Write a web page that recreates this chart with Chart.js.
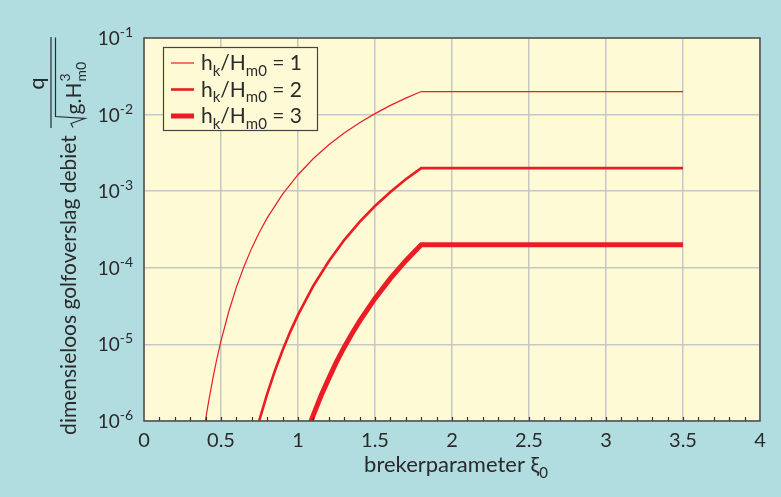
<!DOCTYPE html>
<html><head><meta charset="utf-8">
<script src="https://cdn.jsdelivr.net/npm/chart.js@4.4.1/dist/chart.umd.min.js"></script>
<style>html,body{margin:0;padding:0;background:#b2dde0;}canvas{display:block;}</style>
</head><body>
<canvas id="c" width="781" height="497"></canvas>
<script>
// ---- data ----
const xTicks = [0, 0.5, 1, 1.5, 2, 2.5, 3, 3.5, 4];
const xTickLabels = ['0', '0.5', '1', '1.5', '2', '2.5', '3', '3.5', '4'];
const yTicks = [1e-6, 1e-5, 1e-4, 1e-3, 1e-2, 1e-1];
const yTickBase = '10';
const yTickExponents = ['-6', '-5', '-4', '-3', '-2', '-1'];
const seriesNames = ['hk/Hm0 = 1', 'hk/Hm0 = 2', 'hk/Hm0 = 3'];

const xi1 = [0.38, 0.40, 0.42, 0.45, 0.47, 0.50, 0.55, 0.60, 0.65, 0.70, 0.75, 0.80, 0.90, 1.0, 1.1, 1.2, 1.3, 1.4, 1.5, 1.6, 1.7, 1.8, 3.5];
const q1  = [5.6e-7, 1.04e-6, 1.82e-6, 3.85e-6, 6.05e-6, 1.11e-5, 2.67e-5, 5.6e-5, 1.05e-4, 1.82e-4, 2.94e-4, 4.48e-4, 9.16e-4, 1.64e-3, 2.67e-3, 4.03e-3, 5.75e-3, 7.83e-3, 1.03e-2, 1.32e-2, 1.64e-2, 2.0e-2, 2.0e-2];

const xi2 = [0.72, 0.75, 0.80, 0.85, 0.90, 0.95, 1.0, 1.1, 1.2, 1.3, 1.4, 1.5, 1.6, 1.7, 1.8, 3.5];
const q2  = [6.2e-7, 1.04e-6, 2.26e-6, 4.53e-6, 8.4e-6, 1.47e-5, 2.43e-5, 5.83e-5, 1.22e-4, 2.3e-4, 3.97e-4, 6.41e-4, 9.77e-4, 1.43e-3, 2.0e-3, 2.0e-3];

const xi3 = [1.05, 1.1, 1.15, 1.2, 1.25, 1.3, 1.35, 1.4, 1.5, 1.6, 1.7, 1.8, 3.5];
const q3  = [6.5e-7, 1.2e-6, 2.15e-6, 3.6e-6, 5.9e-6, 9.2e-6, 1.38e-5, 2.01e-5, 3.98e-5, 7.26e-5, 1.24e-4, 2.0e-4, 2.0e-4];

// ---- styling ----
const FONT = 'Lato, "DejaVu Sans", sans-serif';
const RED = '#ec1c24';
const TXT = '#2a2a2a';
const widths = [1.2, 2.6, 5];

function pts(xs, ys) { return xs.map((x, i) => ({ x: x, y: ys[i] })); }

const datasets = [[xi1, q1], [xi2, q2], [xi3, q3]].map((d, i) => ({
  label: seriesNames[i],
  data: pts(d[0], d[1]),
  borderColor: RED,
  backgroundColor: RED,
  borderWidth: widths[i],
  pointRadius: 0,
  tension: 0,
  fill: false,
  clip: 0
}));

function drawSubText(ctx, parts, x, y, size, small) {
  // parts: [text, mode] mode: 0 normal, 1 subscript, 2 superscript
  let cx = x;
  parts.forEach(p => {
    const s = p[1] === 0 ? size : small;
    ctx.font = s + 'px ' + FONT;
    const dy = p[1] === 1 ? size * 0.27 : (p[1] === 2 ? -size * 0.42 : 0);
    ctx.fillText(p[0], cx, y + dy);
    cx += ctx.measureText(p[0]).width;
  });
  return cx - x;
}
function measureParts(ctx, parts, size, small) {
  let w = 0;
  parts.forEach(p => {
    ctx.font = (p[1] === 0 ? size : small) + 'px ' + FONT;
    w += ctx.measureText(p[0]).width;
  });
  return w;
}

const decor = {
  id: 'decor',
  beforeDraw(chart) {
    const ctx = chart.ctx, a = chart.chartArea;
    ctx.save();
    ctx.fillStyle = '#b2dde0';
    ctx.fillRect(0, 0, chart.width, chart.height);
    ctx.fillStyle = '#fffad6';
    ctx.fillRect(a.left, a.top, a.right - a.left, a.bottom - a.top);
    ctx.restore();
  },
  afterDraw(chart) {
    const ctx = chart.ctx, a = chart.chartArea, xs = chart.scales.x, ys = chart.scales.y;
    ctx.save();
    // minor ticks on bottom axis
    ctx.strokeStyle = '#333';
    ctx.lineWidth = 1.2;
    for (let k = 1; k < 40; k++) {
      const px = Math.round(xs.getPixelForValue(k / 10)) + 0.5;
      ctx.beginPath();
      ctx.moveTo(px, a.bottom);
      ctx.lineTo(px, a.bottom - 4);
      ctx.stroke();
    }
    // frame
    ctx.strokeStyle = '#4a4a4a';
    ctx.lineWidth = 1.5;
    ctx.strokeRect(a.left, a.top, a.right - a.left, a.bottom - a.top);

    // y tick labels: 10 with superscript exponent
    ctx.fillStyle = TXT;
    ctx.textBaseline = 'alphabetic';
    ctx.textAlign = 'left';
    yTicks.forEach((v, i) => {
      const py = ys.getPixelForValue(v);
      const parts = [[yTickBase, 0], [yTickExponents[i], 2]];
      const w = measureParts(ctx, parts, 19, 14);
      drawSubText(ctx, parts, 133 - w, py + 7, 19, 14);
    });

    // legend
    const lx = 163.5, ly = 47.5, lw = 154, lh = 83;
    ctx.fillStyle = '#fffad6';
    ctx.fillRect(lx, ly, lw, lh);
    ctx.strokeStyle = '#444';
    ctx.lineWidth = 1.2;
    ctx.strokeRect(lx, ly, lw, lh);
    const rows = [63, 89.5, 116];
    chart.data.datasets.forEach((ds, i) => {
      ctx.strokeStyle = ds.borderColor;
      ctx.lineWidth = ds.borderWidth;
      ctx.beginPath();
      ctx.moveTo(171, rows[i]);
      ctx.lineTo(194, rows[i]);
      ctx.stroke();
      ctx.fillStyle = TXT;
      const num = ds.label.split('= ')[1];
      drawSubText(ctx, [['h', 0], ['k', 1], ['/H', 0], ['m0', 1], [' = ' + num, 0]], 201, rows[i] + 7, 21, 15);
    });

    // x axis title
    ctx.fillStyle = TXT;
    const xparts = [['brekerparameter ξ', 0], ['0', 1]];
    const xw = measureParts(ctx, xparts, 22, 15);
    drawSubText(ctx, xparts, 456 - xw / 2, 472, 22, 15);

    // y axis title (rotated)
    ctx.save();
    ctx.translate(75.5, 285);
    ctx.rotate(-Math.PI / 2);
    ctx.font = '21px ' + FONT;
    ctx.textAlign = 'center';
    ctx.fillText('dimensieloos golfoverslag debiet', 0, 0);
    ctx.restore();

    // fraction q / sqrt(g.H^3_m0)
    ctx.save();
    ctx.translate(51, 82.5);
    ctx.rotate(-Math.PI / 2);
    ctx.strokeStyle = TXT;
    ctx.lineWidth = 1.2;
    ctx.beginPath(); ctx.moveTo(-45.5, 0); ctx.lineTo(45.5, 0); ctx.stroke();
    ctx.font = '22px ' + FONT;
    ctx.textAlign = 'center';
    ctx.fillText('q', -1, -7);
    // radical sign
    ctx.beginPath();
    ctx.moveTo(-45, 22);
    ctx.lineTo(-41, 20);
    ctx.lineTo(-36, 34);
    ctx.lineTo(-34, 4.5);
    ctx.lineTo(45, 4.5);
    ctx.stroke();
    ctx.textAlign = 'left';
    ctx.font = '21px ' + FONT;
    ctx.fillText('g.H', -32, 30);
    const gw = ctx.measureText('g.H').width;
    ctx.font = '14px ' + FONT;
    ctx.fillText('3', -32 + gw + 1, 19);
    ctx.fillText('m0', -32 + gw + 1, 35);
    ctx.restore();

    ctx.restore();
  }
};

new Chart(document.getElementById('c'), {
  type: 'line',
  data: { datasets: datasets },
  plugins: [decor],
  options: {
    responsive: false,
    animation: false,
    devicePixelRatio: 1,
    layout: { padding: { left: 0, right: 21, top: 38, bottom: 0 } },
    plugins: { legend: { display: false }, tooltip: { enabled: false } },
    scales: {
      x: {
        type: 'linear', min: 0, max: 4,
        afterBuildTicks: s => { s.ticks = xTicks.map(v => ({ value: v })); },
        afterFit: s => { s.height = 76; },
        ticks: {
          autoSkip: false, maxRotation: 0, padding: 8,
          color: TXT, font: { family: FONT, size: 20 },
          callback: (v, i) => xTickLabels[i]
        },
        grid: { color: '#c6c6c6', lineWidth: 1.5, drawTicks: false },
        border: { display: false }
      },
      y: {
        type: 'logarithmic', min: 1e-6, max: 1e-1,
        afterBuildTicks: s => { s.ticks = yTicks.map(v => ({ value: v })); },
        afterFit: s => { s.width = 144; },
        ticks: { display: false },
        grid: { color: '#c6c6c6', lineWidth: 1.5, drawTicks: false },
        border: { display: false }
      }
    }
  }
});
</script>
</body></html>
